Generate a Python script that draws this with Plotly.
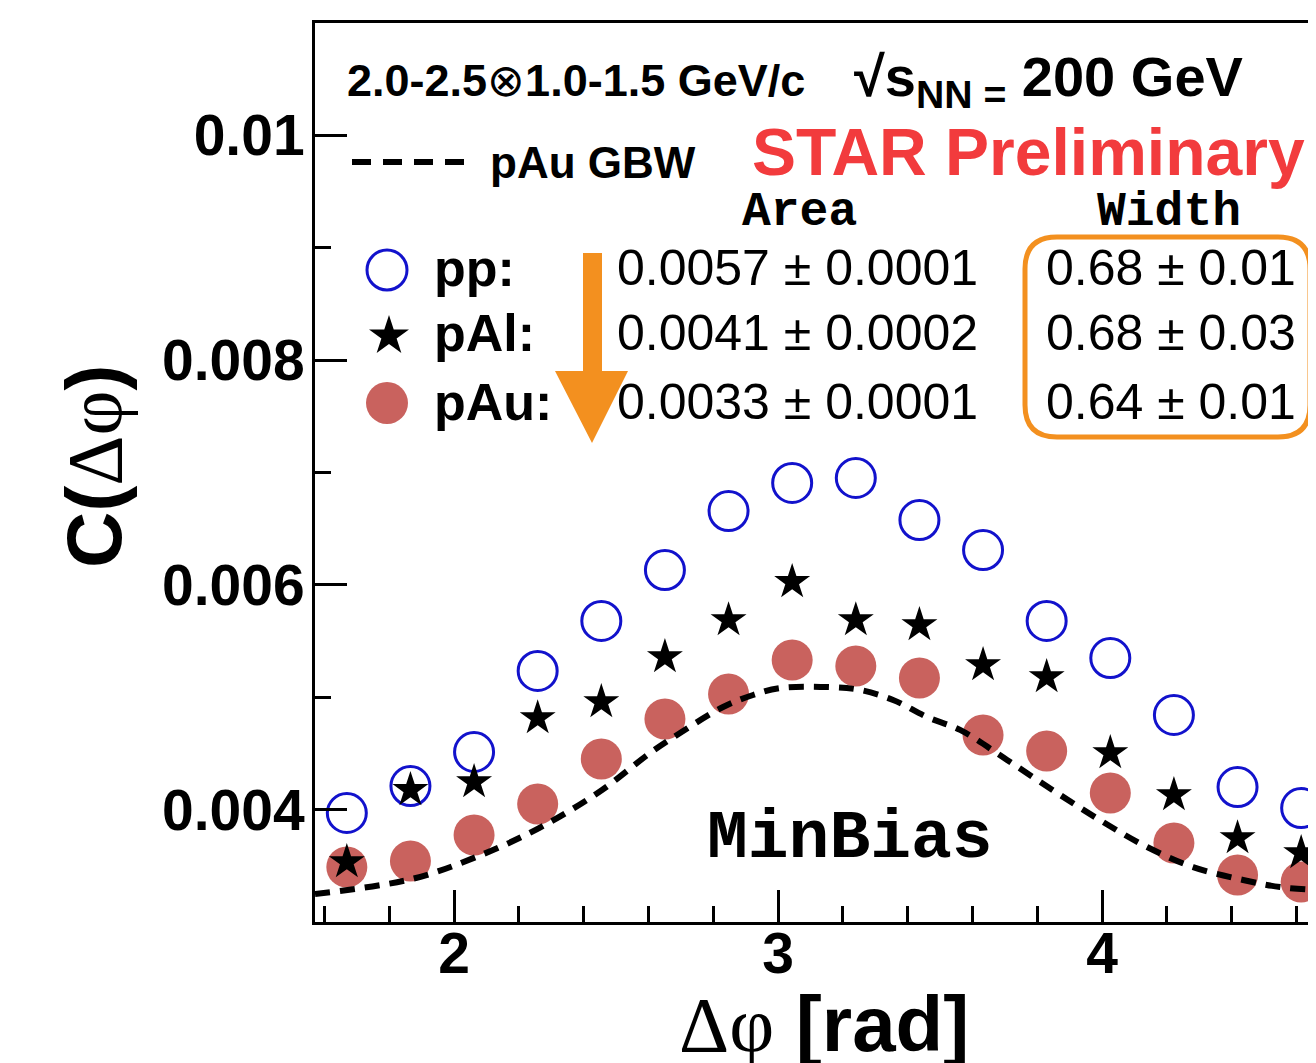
import plotly.graph_objects as go

# ---------------- data ----------------
dphi = [1.6690, 1.8653, 2.0617, 2.2580, 2.4544, 2.6507, 2.8471, 3.0434,
        3.2398, 3.4361, 3.6325, 3.8288, 4.0252, 4.2215, 4.4179, 4.6142]
pp = [0.003970, 0.004210, 0.004513, 0.005234, 0.005679, 0.006132, 0.006657, 0.006907,
      0.006951, 0.006577, 0.006310, 0.005679, 0.005349, 0.004842, 0.004201, 0.004014]
pAl = [0.003534, 0.004175, 0.004246, 0.004815, 0.004958, 0.005358, 0.005687, 0.006026,
       0.005687, 0.005643, 0.005287, 0.005180, 0.004504, 0.004130, 0.003747, 0.003614]
pAu = [0.003489, 0.003543, 0.003774, 0.004050, 0.004451, 0.004806, 0.005029, 0.005331,
       0.005278, 0.005171, 0.004664, 0.004522, 0.004148, 0.003703, 0.003418, 0.003356]
gbw_x = [1.5708, 1.8702, 2.0677, 2.2622, 2.4566, 2.6048, 2.6974, 2.8301, 2.9227, 3.0060,
         3.1511, 3.2529, 3.3548, 3.4597, 3.5616, 3.7066, 3.8610, 4.0028, 4.1388, 4.2807,
         4.4351, 4.5490, 4.6600]
gbw_y = [0.003249, 0.003383, 0.003578, 0.003836, 0.004175, 0.004504, 0.004682, 0.004913,
         0.005020, 0.005082, 0.005091, 0.005065, 0.004976, 0.004824, 0.004709, 0.004442,
         0.004148, 0.003890, 0.003667, 0.003489, 0.003374, 0.003311, 0.003285]

y_tickvals = [0.004, 0.006, 0.008, 0.010]
y_ticktext = ["0.004", "0.006", "0.008", "0.01"]
x_tickvals = [2, 3, 4]
x_ticktext = ["2", "3", "4"]

systems = ["pp:", "pAl:", "pAu:"]
areas = ["0.0057 \u00b1 0.0001", "0.0041 \u00b1 0.0002", "0.0033 \u00b1 0.0001"]
widths = ["0.68 \u00b1 0.01", "0.68 \u00b1 0.03", "0.64 \u00b1 0.01"]

# ---------------- style ----------------
OFF = 8                      # page body margin of the html page
W, H = 1316 - OFF, 1063 - OFF
ML, MR, MT, MB = 315 - OFF, 0, 23 - OFF, 141
SANS = "Liberation Sans, Arial, sans-serif"
MONO = "Liberation Mono, Courier New, monospace"
BLUE = "#1212cc"
RED_FILL = "#c9625e"
ORANGE = "#f3901f"
STAR_RED = "#f23b3d"

def px(x):
    # window pixel -> paper fraction
    return (x - OFF - ML) / (W - ML - MR)

def py(y):
    return (H - MB - (y - OFF)) / (H - MB - MT)

fig = go.Figure()

fig.add_trace(go.Scatter(x=dphi, y=pAu, mode="markers", name="pAu",
                         marker=dict(symbol="circle", size=41, color=RED_FILL, line=dict(width=0)),
                         cliponaxis=False))
fig.add_trace(go.Scatter(x=gbw_x, y=gbw_y, mode="lines", name="pAu GBW",
                         line=dict(color="black", width=6, dash="15px,10px", shape="spline")))
fig.add_trace(go.Scatter(x=dphi, y=pp, mode="markers", name="pp",
                         marker=dict(symbol="circle-open", size=39, color=BLUE, line=dict(width=3, color=BLUE)),
                         cliponaxis=False))
fig.add_trace(go.Scatter(x=dphi, y=pAl, mode="markers", name="pAl",
                         marker=dict(symbol="star", size=27, color="black", line=dict(width=0)),
                         cliponaxis=False))

# legend key glyphs on a pixel-aligned overlay axis (window pixel coordinates)
fig.add_trace(go.Scatter(x=[387], y=[270], xaxis="x2", yaxis="y2", mode="markers",
                         marker=dict(symbol="circle-open", size=40, color=BLUE, line=dict(width=3, color=BLUE))))
fig.add_trace(go.Scatter(x=[389], y=[336], xaxis="x2", yaxis="y2", mode="markers",
                         marker=dict(symbol="star", size=30, color="black", line=dict(width=0))))
fig.add_trace(go.Scatter(x=[387], y=[403], xaxis="x2", yaxis="y2", mode="markers",
                         marker=dict(symbol="circle", size=42, color=RED_FILL, line=dict(width=0))))
fig.add_trace(go.Scatter(x=[352, 466], y=[162, 162], xaxis="x2", yaxis="y2", mode="lines",
                         line=dict(color="black", width=6, dash="19px,12px")))

axis_common = dict(showgrid=False, zeroline=False, showline=True, linecolor="black", linewidth=3,
                   ticks="inside", tickcolor="black", tickwidth=3, ticklen=32,
                   tickfont=dict(family=SANS, size=57, color="black", weight="bold"))

fig.update_layout(
    width=W, height=H, autosize=False,
    margin=dict(l=ML, r=MR, t=MT, b=MB),
    paper_bgcolor="white", plot_bgcolor="white",
    showlegend=False,
    font=dict(family=SANS, color="black"),
    xaxis=dict(range=[1.5708, 4.660], tickvals=x_tickvals, ticktext=x_ticktext, mirror=True,
               ticklabelstandoff=-20,
               minor=dict(dtick=0.2, tick0=0, ticks="inside", ticklen=16, tickwidth=3, tickcolor="black"),
               **axis_common),
    yaxis=dict(range=[0.003, 0.011], tickvals=y_tickvals, ticktext=y_ticktext, mirror=False,
               ticklabelstandoff=-4,
               minor=dict(dtick=0.001, tick0=0, ticks="inside", ticklen=16, tickwidth=3, tickcolor="black"),
               **axis_common),
    xaxis2=dict(overlaying="x", range=[315, 1316], visible=False),
    yaxis2=dict(overlaying="y", range=[922, 23], visible=False),
)

ann = []
def txt(text, x, y, size, xanchor="center", family=SANS, bold=True, color="black", yanchor="middle", angle=0):
    ann.append(dict(text=text, x=px(x), y=py(y), xref="paper", yref="paper", showarrow=False,
                    xanchor=xanchor, yanchor=yanchor, textangle=angle,
                    font=dict(family=family, size=size, color=color, weight="bold" if bold else "normal")))

txt('2.0-2.5<span style="font-weight:normal">\u2297</span>1.0-1.5 GeV/c', 345, 80, 45, xanchor="left")
txt("\u221as<sub>NN =</sub> 200 GeV", 852, 80, 56, xanchor="left")
txt("STAR Preliminary", 750, 152, 66, xanchor="left", color=STAR_RED)
txt("pAu GBW", 488, 163, 44, xanchor="left")
txt("Area", 799, 212, 48, family=MONO)
txt("Width", 1169, 212, 48, family=MONO)
row_y = [268, 333, 402]
for i in range(3):
    txt(systems[i], 432, row_y[i], 52, xanchor="left")
    txt(areas[i], 797, row_y[i], 50, bold=False)
    txt(widths[i], 1171, row_y[i], 50, bold=False)
txt("MinBias", 850, 838, 68, family=MONO)

# axis titles
txt('<span style="font-family:Liberation Serif;font-weight:normal">\u0394\u03c6</span> [rad]',
    824, 1024, 78)
txt('C(<span style="font-family:Liberation Serif;font-weight:normal">\u0394\u03c6</span>)',
    94, 467, 78, angle=-90)

fig.update_layout(annotations=ann)

# orange rounded box (window pixel coordinates on the overlay axis)
x0, x1, y0, y1, r = 1025, 1310, 237, 437, 32
path = (f"M {x0 + r} {y0} L {x1 - r} {y0} Q {x1} {y0} {x1} {y0 + r} "
        f"L {x1} {y1 - r} Q {x1} {y1} {x1 - r} {y1} L {x0 + r} {y1} Q {x0} {y1} {x0} {y1 - r} "
        f"L {x0} {y0 + r} Q {x0} {y0} {x0 + r} {y0} Z")
fig.add_shape(type="path", path=path, xref="x2", yref="y2", line=dict(color=ORANGE, width=5))

# orange arrow
arrow = "M 583 253 L 602 253 L 602 371 L 628 371 L 592 443 L 555 371 L 583 371 Z"
fig.add_shape(type="path", path=arrow, xref="x2", yref="y2", fillcolor=ORANGE, line=dict(width=0))

fig.write_html("out.html")
